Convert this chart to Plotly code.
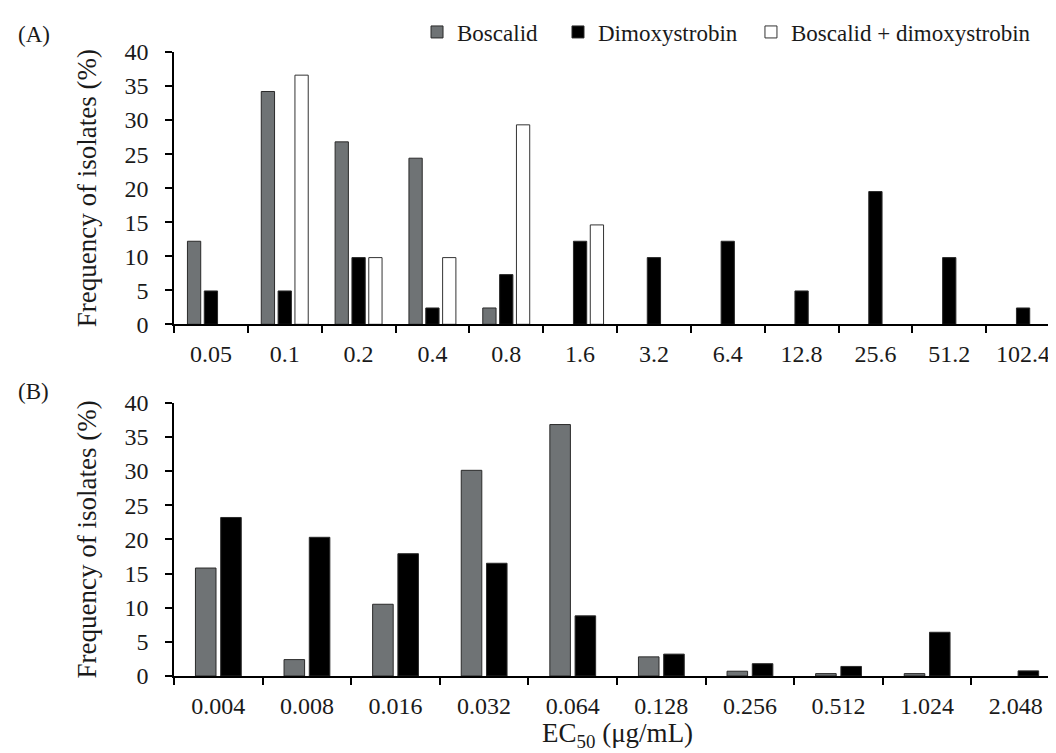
import plotly.graph_objects as go
from plotly.subplots import make_subplots

# ---- Data ----
cats_a = ["0.05", "0.1", "0.2", "0.4", "0.8", "1.6", "3.2", "6.4", "12.8", "25.6", "51.2", "102.4"]
boscalid_a = [12.2, 34.2, 26.8, 24.4, 2.4, 0, 0, 0, 0, 0, 0, 0]
dimox_a = [4.9, 4.9, 9.8, 2.4, 7.3, 12.2, 9.8, 12.2, 4.9, 19.5, 9.8, 2.4]
combo_a = [0, 36.6, 9.8, 9.8, 29.3, 14.6, 0, 0, 0, 0, 0, 0]

cats_b = ["0.004", "0.008", "0.016", "0.032", "0.064", "0.128", "0.256", "0.512", "1.024", "2.048"]
boscalid_b = [15.8, 2.4, 10.5, 30.1, 36.8, 2.8, 0.7, 0.35, 0.35, 0]
dimox_b = [23.2, 20.3, 17.9, 16.5, 8.8, 3.2, 1.8, 1.4, 6.4, 0.75]

series_names = ["Boscalid", "Dimoxystrobin", "Boscalid + dimoxystrobin"]
y_ticks = [0, 5, 10, 15, 20, 25, 30, 35, 40]


def nz(vals):
    # zero-frequency classes are drawn as no bar at all
    return [v if v > 0 else None for v in vals]


GRAY = "#6f7375"
FONT = "Liberation Serif"
TXT = "#1a1a1a"

fig = make_subplots(rows=2, cols=1, vertical_spacing=0.1255)

outline = dict(color="#2a2a2a", width=1)
# Panel A
fig.add_trace(go.Bar(x=cats_a, y=nz(boscalid_a), name=series_names[0], marker=dict(color=GRAY, line=outline),
                     width=0.18, offset=-0.318, legend="legend"), row=1, col=1)
fig.add_trace(go.Bar(x=cats_a, y=nz(dimox_a), name=series_names[1], marker=dict(color="black", line=outline),
                     width=0.18, offset=-0.09, legend="legend2"), row=1, col=1)
fig.add_trace(go.Bar(x=cats_a, y=nz(combo_a), name=series_names[2],
                     marker=dict(color="white", line=dict(color="#333333", width=1)),
                     width=0.18, offset=0.138, legend="legend3"), row=1, col=1)
# Panel B
fig.add_trace(go.Bar(x=cats_b, y=nz(boscalid_b), name=series_names[0], marker=dict(color=GRAY, line=outline),
                     width=0.232, offset=-0.258, showlegend=False), row=2, col=1)
fig.add_trace(go.Bar(x=cats_b, y=nz(dimox_b), name=series_names[1], marker=dict(color="black", line=outline),
                     width=0.232, offset=0.027, showlegend=False), row=2, col=1)

axis_common = dict(showline=True, linecolor="black", linewidth=1.5, ticks="outside", ticklen=7,
                   tickcolor="black", tickwidth=1.5, showgrid=False, zeroline=False,
                   tickfont=dict(family=FONT, size=24, color=TXT))

fig.update_xaxes(**axis_common, type="category", tickson="boundaries", ticklabelstandoff=7)
fig.update_yaxes(**axis_common, range=[0, 40], tickvals=y_ticks, ticklabelstandoff=12,
                 title=dict(text="Frequency of isolates (%)", font=dict(family=FONT, size=27, color=TXT), standoff=20))

leg_common = dict(orientation="h", xanchor="left", y=1.0304, yanchor="middle",
                  font=dict(family=FONT, size=23, color=TXT), itemwidth=30,
                  bgcolor="rgba(0,0,0,0)", borderwidth=0)

fig.update_layout(
    width=1056, height=753,
    margin=dict(l=166, r=4, t=43, b=85),
    plot_bgcolor="white", paper_bgcolor="white",
    barmode="group",
    font=dict(family=FONT, size=22, color=TXT),
    legend=dict(**leg_common, x=0.2743),
    legend2=dict(**leg_common, x=0.4334),
    legend3=dict(**leg_common, x=0.6512),
    annotations=[
        dict(text="(A)", x=-0.178, y=1.028, xref="paper", yref="paper", xanchor="left", yanchor="middle",
             showarrow=False, font=dict(family=FONT, size=23, color=TXT)),
        dict(text="(B)", x=-0.178, y=0.456, xref="paper", yref="paper", xanchor="left", yanchor="middle",
             showarrow=False, font=dict(family=FONT, size=23, color=TXT)),
        dict(text="EC<sub>50</sub> (μg/mL)", x=0.5, y=-0.1245, xref="paper", yref="paper",
             xanchor="center", yanchor="bottom", showarrow=False,
             font=dict(family=FONT, size=27, color=TXT)),
    ],
)
fig.update_yaxes(domain=[0.5636, 1.0], row=1, col=1)
fig.update_yaxes(domain=[0.0, 0.438], row=2, col=1)

fig.write_html("out.html")
